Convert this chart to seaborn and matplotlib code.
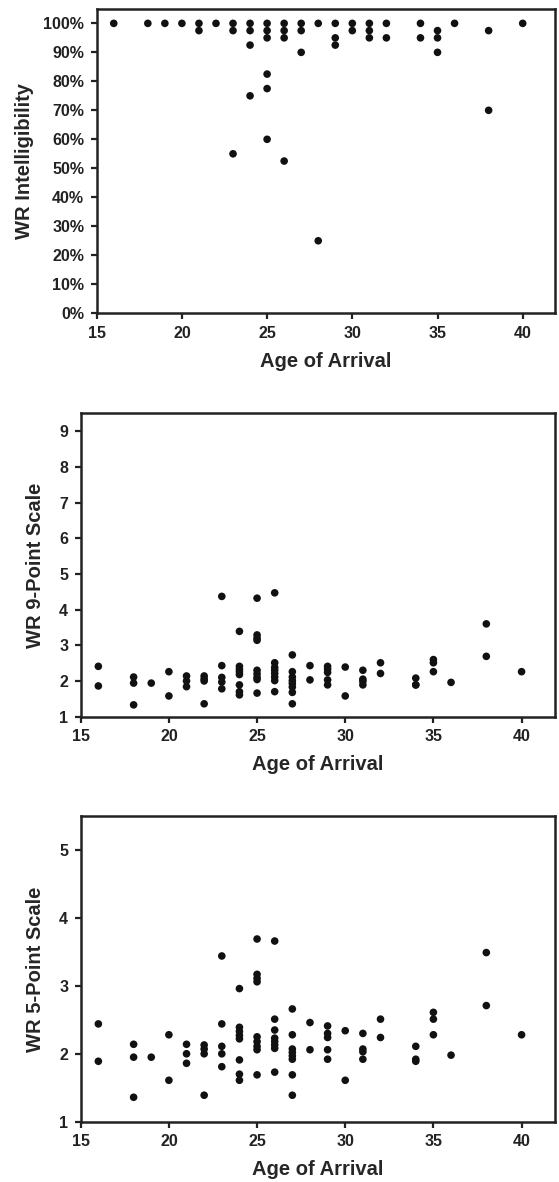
import pandas as pd
import seaborn as sns
import matplotlib.pyplot as plt
from matplotlib.ticker import PercentFormatter

# Panel 1: WR intelligibility (%) by age of arrival
intel_age = [16, 18, 19, 20,
             21, 21, 22,
             23, 23, 23,
             24, 24, 24, 24,
             25, 25, 25, 25, 25, 25,
             26, 26, 26, 26,
             27, 27, 27,
             28, 28,
             29, 29, 29,
             30, 30,
             31, 31, 31,
             32, 32,
             34, 34,
             35, 35, 35,
             36,
             38, 38,
             40]
intel_pct = [100, 100, 100, 100,
             100, 97.5, 100,
             100, 97.5, 55,
             100, 97.5, 92.5, 75,
             100, 97.5, 95, 82.5, 77.5, 60,
             100, 97.5, 95, 52.5,
             100, 97.5, 90,
             100, 25,
             100, 95, 92.5,
             100, 97.5,
             100, 97.5, 95,
             100, 95,
             100, 95,
             97.5, 95, 90,
             100,
             97.5, 70,
             100]

# Panels 2 and 3: rating scales by age of arrival
scale_age = [16, 16,
             18, 18, 18,
             19,
             20, 20,
             21, 21, 21,
             22, 22, 22, 22,
             23, 23, 23, 23, 23,
             24, 24, 24, 24, 24, 24, 24, 24,
             25, 25, 25, 25, 25, 25, 25, 25, 25,
             26, 26, 26, 26, 26, 26, 26, 26,
             27, 27, 27, 27, 27, 27, 27, 27,
             28, 28,
             29, 29, 29, 29, 29,
             30, 30,
             31, 31, 31, 31,
             32, 32,
             34, 34, 34,
             35, 35, 35,
             36,
             38, 38,
             40]
wr9 = [2.41, 1.86,
       2.11, 1.94, 1.33,
       1.94,
       2.26, 1.58,
       2.14, 2.00, 1.84,
       2.14, 2.06, 2.00, 1.36,
       4.37, 2.43, 2.10, 1.97, 1.78,
       3.39, 2.41, 2.33, 2.26, 2.18, 1.89, 1.70, 1.61,
       4.32, 3.29, 3.20, 3.14, 2.30, 2.20, 2.10, 2.04, 1.66,
       4.47, 2.51, 2.38, 2.30, 2.21, 2.11, 2.01, 1.70,
       2.73, 2.26, 2.11, 2.01, 1.93, 1.83, 1.68, 1.36,
       2.43, 2.03,
       2.41, 2.33, 2.24, 2.03, 1.89,
       2.39, 1.58,
       2.30, 2.05, 1.99, 1.89,
       2.51, 2.21,
       2.08, 1.89, 1.89,
       2.60, 2.51, 2.26,
       1.96,
       3.60, 2.69,
       2.26]
wr5 = [2.44, 1.89,
       2.14, 1.95, 1.36,
       1.95,
       2.28, 1.61,
       2.14, 2.00, 1.86,
       2.13, 2.07, 2.00, 1.39,
       3.44, 2.44, 2.11, 2.00, 1.81,
       2.96, 2.39, 2.33, 2.27, 2.22, 1.91, 1.70, 1.61,
       3.69, 3.17, 3.11, 3.06, 2.25, 2.18, 2.11, 2.06, 1.69,
       3.66, 2.51, 2.35, 2.23, 2.18, 2.13, 2.08, 1.73,
       2.66, 2.28, 2.07, 2.02, 1.97, 1.92, 1.69, 1.39,
       2.46, 2.06,
       2.41, 2.30, 2.24, 2.06, 1.92,
       2.34, 1.61,
       2.30, 2.07, 2.03, 1.92,
       2.51, 2.24,
       2.11, 1.92, 1.89,
       2.61, 2.51, 2.28,
       1.98,
       3.49, 2.71,
       2.28]

df_intel = pd.DataFrame({"age": intel_age, "intel": intel_pct})
df_scale = pd.DataFrame({"age": scale_age, "wr9": wr9, "wr5": wr5})

sns.set_style("ticks")
plt.rcParams['font.family'] = ['Liberation Sans', 'DejaVu Sans']
plt.rcParams['font.weight'] = 'bold'

fig = plt.figure(figsize=(5.59, 11.82), dpi=100)
ax1 = fig.add_axes([0.173, 0.735, 0.820, 0.2575])
ax2 = fig.add_axes([0.1444, 0.3937, 0.8486, 0.2566])
ax3 = fig.add_axes([0.1444, 0.0510, 0.8486, 0.2586])

dot = dict(color="#111111", s=30, edgecolor="none", legend=False)
sns.scatterplot(data=df_intel, x="age", y="intel", ax=ax1, **dot)
sns.scatterplot(data=df_scale, x="age", y="wr9", ax=ax2, **dot)
sns.scatterplot(data=df_scale, x="age", y="wr5", ax=ax3, **dot)

ax1.set_ylim(0, 105)
ax1.set_yticks(range(0, 101, 10))
ax1.yaxis.set_major_formatter(PercentFormatter(decimals=0))
ax1.set_ylabel("WR Intelligibility")

ax2.set_ylim(1, 9.5)
ax2.set_yticks(range(1, 10))
ax2.set_ylabel("WR 9-Point Scale")

ax3.set_ylim(1, 5.5)
ax3.set_yticks(range(1, 6))
ax3.set_ylabel("WR 5-Point Scale")

for ax in (ax1, ax2, ax3):
    ax.set_xlim(15, 41.9)
    ax.set_xticks(range(15, 41, 5))
    ax.set_xlabel("Age of Arrival", fontsize=14.5, fontweight="bold", labelpad=8)
    ax.yaxis.label.set_size(14.5)
    ax.yaxis.label.set_weight("bold")
    for side in ax.spines.values():
        side.set_linewidth(1.8)
        side.set_color("#222222")
    ax.tick_params(direction="out", length=4.5, width=1.6, color="#222222",
                   labelsize=11.5, pad=4.5)
    for lab in ax.get_xticklabels() + ax.get_yticklabels():
        lab.set_fontweight("bold")
        lab.set_color("#222222")

ax1.yaxis.labelpad = 7
ax2.yaxis.labelpad = 10
ax3.yaxis.labelpad = 10

fig.savefig("out.png", dpi=100)
